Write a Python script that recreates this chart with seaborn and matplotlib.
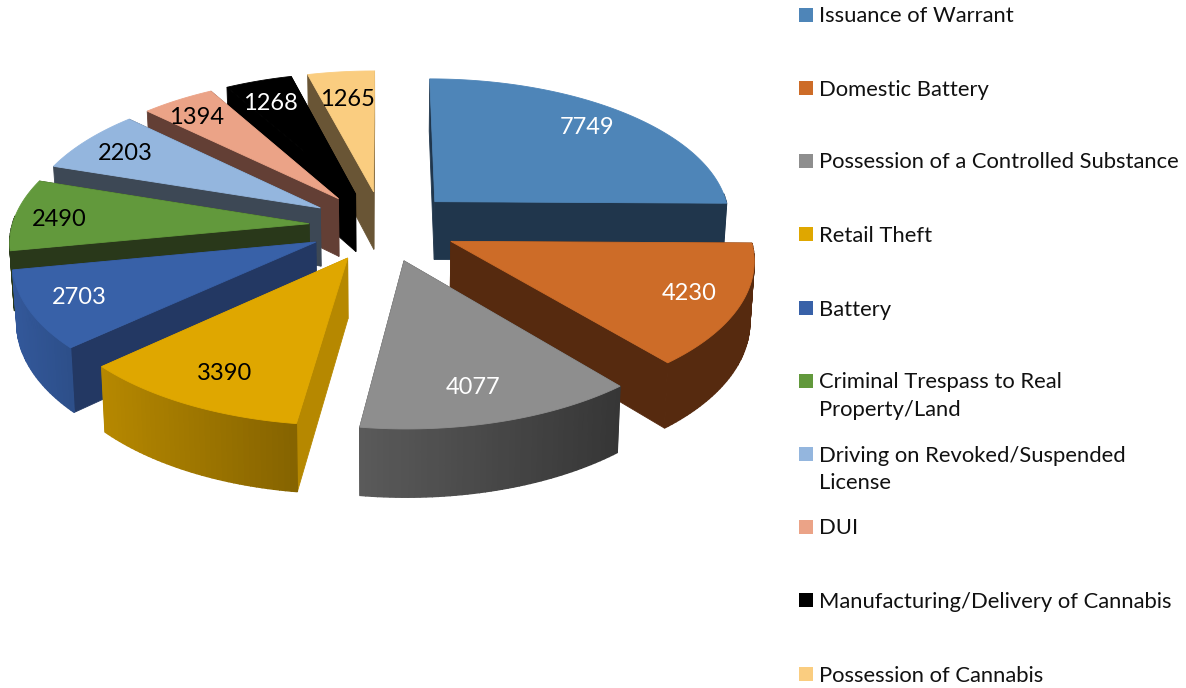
import numpy as np
import matplotlib
matplotlib.use("Agg")
import matplotlib.pyplot as plt
from matplotlib.colors import to_rgb
import seaborn as sns

categories = ["Issuance of Warrant", "Domestic Battery", "Possession of a Controlled Substance",
              "Retail Theft", "Battery", "Criminal Trespass to Real\nProperty/Land",
              "Driving on Revoked/Suspended\nLicense", "DUI",
              "Manufacturing/Delivery of Cannabis", "Possession of Cannabis"]
values = [7749, 4230, 4077, 3390, 2703, 2490, 2203, 1394, 1268, 1265]

top_colors = ["#4E85B8", "#CD6C28", "#8E8E8E", "#DFA700", "#3861A8",
              "#62993C", "#94B6DE", "#EBA387", "#000000", "#FACD80"]
radial_colors = ["#20364C", "#562A0F", "#3A3A3A", "#B68800", "#233863",
                 "#29381A", "#3D4855", "#633F35", "#000000", "#695535"]
arc_left = ["#20364C", "#562A0F", "#5A5A5A", "#B68800", "#33589A",
            "#29381A", "#3D4855", "#633F35", "#000000", "#695535"]
arc_right = ["#20364C", "#562A0F", "#363636", "#856300", "#2D4F8A",
             "#29381A", "#3D4855", "#633F35", "#000000", "#695535"]
label_colors = ["white", "white", "white", "black", "white",
                "black", "black", "black", "white", "black"]
label_xy = [(587, 128), (689, 293), (473, 388), (225, 374), (79, 298),
            (59, 219), (125, 153), (197, 118), (270, 104), (347, 99)]
legend_y = [15, 88, 161, 234, 308, 381, 454, 527, 600, 674]
draw_order = [0, 9, 8, 7, 6, 5, 4, 3, 1, 2]

CX, CY, RX, RY, PERSP, EXPLODE, DEPTH, SHRINK = 383, 226, 297, 141.3, 0.11, 0.25, 59, 0.012

sns.set_theme(style="white")
plt.rcParams["font.family"] = ["Lato", "DejaVu Sans"]
palette = sns.color_palette(top_colors)

fig = plt.figure(figsize=(11.86, 6.88), dpi=100)
ax = fig.add_axes([0, 0, 1, 1])
ax.set_xlim(0, 1186)
ax.set_ylim(688, 0)
ax.axis("off")


def project(x, y, bottom=False):
    w = 1 - PERSP * y
    sx = RX * x / w
    sy = CY + RY * y / w
    if bottom:
        sx = sx / (1 + SHRINK)
        sy = sy + DEPTH / w
    return CX + sx, sy


def mix(c1, c2, t):
    a, b = np.array(to_rgb(c1)), np.array(to_rgb(c2))
    return tuple(a + (b - a) * t)


edges = np.concatenate([[0], np.cumsum(values)]) / np.sum(values) * 2 * np.pi
z = 1
for i in draw_order:
    a0, a1 = edges[i], edges[i + 1]
    mid = (a0 + a1) / 2
    ox, oy = EXPLODE * np.sin(mid), -EXPLODE * np.cos(mid)
    ang = np.linspace(a0, a1, max(int(np.degrees(a1 - a0)), 3) + 1)
    px, py = ox + np.sin(ang), oy - np.cos(ang)

    faces = []
    for xx, yy in ((px[0], py[0]), (px[-1], py[-1])):
        tx, ty = project(ox, oy)
        ex, ey = project(xx, yy)
        bx, by = project(xx, yy, True)
        ux, uy = project(ox, oy, True)
        faces.append(((oy + yy) / 2, [tx, ex, bx, ux], [ty, ey, by, uy], radial_colors[i], 0.6))

    tx_all, _ = project(px, py)
    xmin, xmax = tx_all.min(), tx_all.max()
    for k in range(len(ang) - 1):
        if -np.cos((ang[k] + ang[k + 1]) / 2) < -0.05:
            continue  # outer wall faces away from the viewer
        x1, y1 = project(px[k], py[k])
        x2, y2 = project(px[k + 1], py[k + 1])
        x3, y3 = project(px[k + 1], py[k + 1], True)
        x4, y4 = project(px[k], py[k], True)
        t = ((x1 + x2) / 2 - xmin) / max(xmax - xmin, 1)
        faces.append(((py[k] + py[k + 1]) / 2, [x1, x2, x3, x4], [y1, y2, y3, y4],
                      mix(arc_left[i], arc_right[i], t), 1.0))

    for _, fx, fy, col, lw in sorted(faces, key=lambda f: f[0]):
        ax.fill(fx, fy, color=col, lw=lw, zorder=z)
        z += 1

    top_x, top_y = project(np.r_[ox, px], np.r_[oy, py])
    ax.fill(top_x, top_y, color=palette[i], lw=0.6, zorder=z)
    z += 1

for i, (lx, ly) in enumerate(label_xy):
    ax.text(lx, ly, str(values[i]), color=label_colors[i], fontsize=17,
            ha="center", va="center", zorder=500)

for i, (name, ly) in enumerate(zip(categories, legend_y)):
    ax.add_patch(plt.Rectangle((799, ly - 7), 14, 14, color=palette[i], lw=0, zorder=500))
    ax.text(819, ly - 8.5, name, color="#111111", fontsize=15.8, ha="left", va="top",
            linespacing=1.49, zorder=500)

fig.savefig("out.png", dpi=100)
